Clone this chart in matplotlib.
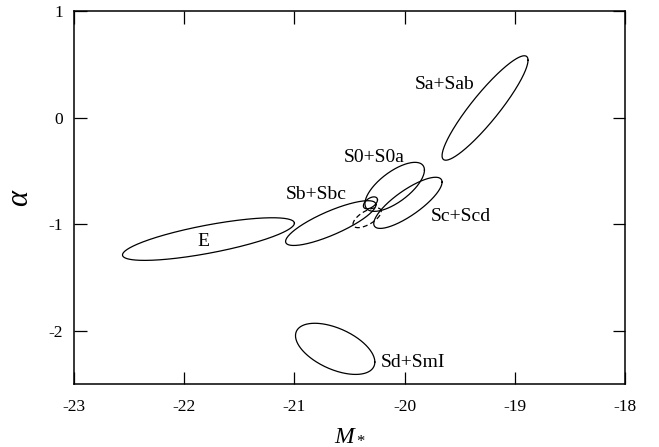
import numpy as np
import matplotlib
matplotlib.use("Agg")
import matplotlib.pyplot as plt

# ── Data ────────────────────────────────────────────────────────────────
# each contour: centre, half-extent in M* and alpha, phase lag (deg) between them
ell_names = ["E", "Sb+Sbc", "S0+S0a", "Sc+Scd", "Sa+Sab", "Sd+SmI", "", ""]
ell_cx    = [-21.78, -20.67, -20.09, -19.97, -19.27, -20.63, -20.31, -20.34]
ell_cy    = [-1.14, -0.99, -0.65, -0.80, 0.09, -2.17, -0.80, -0.94]
ell_dx    = [0.78, 0.41, 0.27, 0.31, 0.39, 0.36, 0.064, 0.128]
ell_dy    = [0.20, 0.21, 0.23, 0.24, 0.49, 0.24, 0.056, 0.093]
ell_phase = [42, 35, 47, 36, 24, 121, 60, 50]
ell_dash  = [False, False, False, False, False, False, False, True]

label_text = ["E", "Sb+Sbc", "S0+S0a", "Sc+Scd", "Sa+Sab", "Sd+SmI"]
label_x    = [-21.83, -20.80, -20.28, -19.49, -19.64, -19.92]
label_y    = [-1.16, -0.72, -0.37, -0.93, 0.31, -2.30]

x_ticks = [-23, -22, -21, -20, -19, -18]
y_ticks = [-2, -1, 0, 1]

# ── Style ───────────────────────────────────────────────────────────────
plt.rcParams["font.family"] = ["Liberation Serif", "DejaVu Serif"]
plt.rcParams["mathtext.fontset"] = "custom"
plt.rcParams["mathtext.rm"] = "Liberation Serif"
plt.rcParams["mathtext.it"] = "Liberation Serif:italic"


def main():
    fig = plt.figure(figsize=(6.59, 4.47), dpi=100)
    ax = fig.add_axes([0.1123, 0.1409, 0.8361, 0.8345])

    t = np.linspace(0, 2 * np.pi, 400)
    for cx, cy, dx, dy, ph, dash in zip(ell_cx, ell_cy, ell_dx, ell_dy, ell_phase, ell_dash):
        xs = cx + dx * np.cos(t)
        ys = cy + dy * np.cos(t - np.radians(ph))
        ax.plot(xs, ys, color="black", lw=0.9,
                linestyle=(0, (4, 2.5)) if dash else "-")

    for txt, lx, ly in zip(label_text, label_x, label_y):
        ax.text(lx, ly, txt, ha="center", va="center", fontsize=14)

    ax.set_xlim(-23, -18)
    ax.set_ylim(-2.5, 1)
    ax.set_xticks(x_ticks)
    ax.set_yticks(y_ticks)
    ax.set_xticklabels([str(v) for v in x_ticks])
    ax.set_yticklabels([str(v) for v in y_ticks])
    ax.tick_params(direction="in", length=9, width=0.9, labelsize=12.5,
                   top=True, right=True)
    ax.tick_params(axis="x", pad=11)
    ax.tick_params(axis="y", pad=8)
    for s in ax.spines.values():
        s.set_linewidth(1.1)

    ax.set_xlabel(r"$M_*$", fontsize=17, labelpad=6)
    ax.set_ylabel(r"$\alpha$", fontsize=22, labelpad=10)

    fig.savefig("out.png", dpi=100)
    plt.close(fig)


if __name__ == "__main__":
    main()
